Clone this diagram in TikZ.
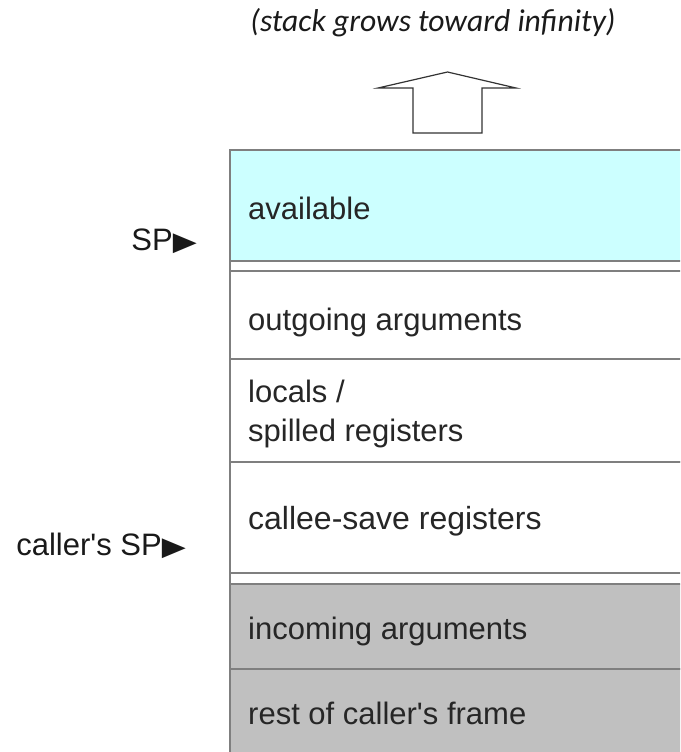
\documentclass[tikz,border=0pt]{standalone}
\usepackage{fontspec}
\newfontfamily\lab{Liberation Sans}
\newfontfamily\titlefont{Carlito}
\newfontfamily\sym[FakeStretch=1.2]{DejaVu Sans}
\definecolor{boxline}{HTML}{7F7F7F}
\definecolor{availfill}{HTML}{CCFFFF}
\definecolor{callerfill}{HTML}{C0C0C0}
\definecolor{titlecol}{HTML}{1A1A1A}
\tikzset{
  cell/.style={draw=boxline, line width=1.6pt},
  celltext/.style={anchor=base west, inner sep=0pt, font=\lab\fontsize{31}{34}\selectfont, text=black!85},
  sptext/.style={anchor=base east, inner sep=0pt, font=\lab\fontsize{31}{34}\selectfont, text=black!90},
}
\newcommand{\tri}{{\sym\fontsize{26}{28}\selectfont ▶}}
\begin{document}
\begin{tikzpicture}[x=1pt,y=-1pt]
\useasboundingbox (0,0) rectangle (680,752);
\begin{scope}
\clip (0,0) rectangle (680,752);
% cells
\path[cell, fill=availfill] (230,150) rectangle (700,261);
\path[cell, fill=white] (230,271) rectangle (700,359);
\path[cell, fill=white] (230,359) rectangle (700,462);
\path[cell, fill=white] (230,462) rectangle (700,573);
\path[cell, fill=callerfill] (230,584) rectangle (700,669);
\path[cell, fill=callerfill] (230,669) rectangle (700,760);
\draw[boxline, line width=1.6pt] (230,261) -- (230,271) (230,573) -- (230,584);
\end{scope}
% texts
\node[celltext] (avail) at (248,219) {available};
\node[celltext] (outg) at (248,330) {outgoing arguments};
\node[celltext] (loc1) at (248,402) {locals /};
\node[celltext] (loc2) at (248,441) {spilled registers};
\node[celltext, font=\lab\fontsize{32}{36}\selectfont] (callee) at (248,529) {callee-save registers};
\node[celltext] (incom) at (248,639) {incoming arguments};
\node[celltext] (rest) at (248,724) {rest of caller's frame};
% pointers
\node[sptext] (sp) at (197,250) {SP\tri};
\node[sptext] (csp) at (186,555) {caller's SP\tri};
% title and arrow
\node[anchor=base, inner sep=0pt, font=\titlefont\itshape\fontsize{31.6}{36}\selectfont, text=titlecol] (title) at (433,32) {(stack grows toward infinity)};
\draw[black!80, line width=1.2pt, line join=miter]
  (447.5,72) -- (516,88) -- (482,88) -- (482,133) -- (413,133) -- (413,88) -- (378,88) -- cycle;
\end{tikzpicture}
\end{document}
